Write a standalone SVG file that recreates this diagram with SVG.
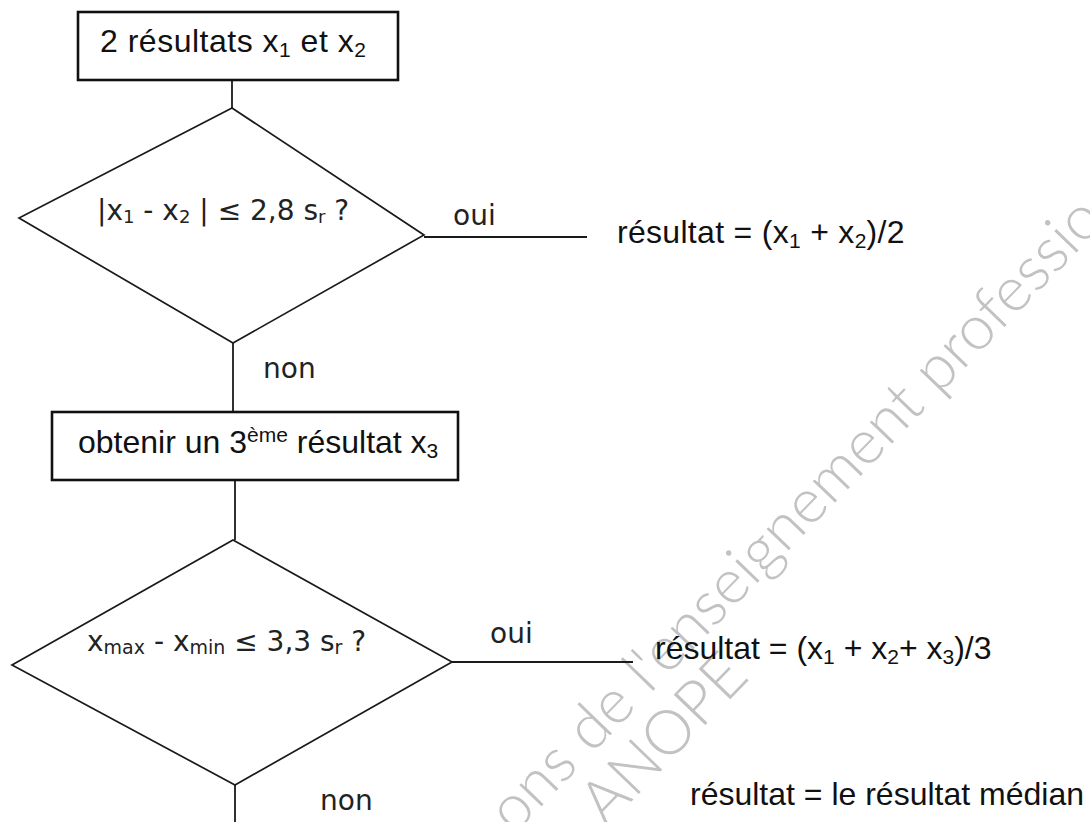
<svg xmlns="http://www.w3.org/2000/svg" width="1090" height="822" viewBox="0 0 1090 822">
<style>
.box{fill:none;stroke:#111;stroke-width:2.6}
.dia{fill:none;stroke:#1a1a1a;stroke-width:1.7}
.ln{stroke:#1a1a1a;stroke-width:1.8;fill:none}
.t{font-family:"Liberation Sans",Arial,sans-serif;fill:#111;font-size:32px}
.q{font-family:"DejaVu Sans","Liberation Sans",sans-serif;fill:#222;font-size:28px}
.wm{font-family:"Lato","Open Sans",sans-serif;font-weight:300;fill:#c2c2c2;font-size:62px}
</style>
<rect width="1090" height="822" fill="#fff"/>
<g id="watermark">
<text class="wm" transform="translate(514,835) rotate(-46)">ons de l'enseignement professio</text>
<text class="wm" transform="translate(606,828) rotate(-46)">ANOPE</text>
</g>
<g id="connectors">
<line class="ln" x1="232" y1="80" x2="232" y2="108"/>
<line class="ln" x1="424" y1="237" x2="587" y2="237"/>
<line class="ln" x1="233" y1="343" x2="233" y2="412"/>
<line class="ln" x1="235" y1="480" x2="235" y2="540"/>
<line class="ln" x1="452" y1="662" x2="633" y2="662"/>
<line class="ln" x1="235" y1="785" x2="235" y2="822"/>
<text class="q" x="453" y="225">oui</text>
<text class="q" x="263" y="378">non</text>
<text class="q" x="490" y="643">oui</text>
<text class="q" x="320" y="810">non</text>
</g>
<g id="start">
<rect class="box" x="78" y="12" width="320" height="68"/>
<text class="t" x="100" y="52" letter-spacing="0.5">2 résultats x<tspan font-size="21" dy="5">1</tspan><tspan dy="-5"> et x</tspan><tspan font-size="21" dy="5">2</tspan></text>
</g>
<g id="decision1">
<polygon class="dia" points="232,108 424,235 233,343 19,218"/>
<text class="q" x="97" y="220" font-size="27">|x<tspan font-size="18" dy="3">1</tspan><tspan dy="-3"> - x</tspan><tspan font-size="18" dy="3">2</tspan><tspan dy="-3"> | ≤ 2,8 s</tspan><tspan font-size="18" dy="3">r</tspan><tspan dy="-3">  ?</tspan></text>
</g>
<g id="result1">
<text class="t" x="617" y="243" letter-spacing="0.3">résultat = (x<tspan font-size="21" dy="5">1</tspan><tspan dy="-5"> + x</tspan><tspan font-size="21" dy="5">2</tspan><tspan dy="-5">)/2</tspan></text>
</g>
<g id="third">
<rect class="box" x="52" y="412" width="406" height="68"/>
<text class="t" x="78" y="453">obtenir un 3<tspan font-size="21" dy="-11">ème</tspan><tspan dy="11"> résultat x</tspan><tspan font-size="21" dy="5">3</tspan></text>
</g>
<g id="decision2">
<polygon class="dia" points="233,540 452,662 235,785 12,665"/>
<text class="q" x="87" y="651">x<tspan font-size="19" dy="3">max</tspan><tspan dy="-3"> - x</tspan><tspan font-size="19" dy="3">min</tspan><tspan dy="-3"> ≤ 3,3 s</tspan><tspan font-size="19" dy="3">r</tspan><tspan dy="-3">  ?</tspan></text>
</g>
<g id="result2">
<text class="t" x="655" y="659">résultat = (x<tspan font-size="21" dy="5">1</tspan><tspan dy="-5"> + x</tspan><tspan font-size="21" dy="5">2</tspan><tspan dy="-5">+ x</tspan><tspan font-size="21" dy="5">3</tspan><tspan dy="-5">)/3</tspan></text>
</g>
<g id="result3">
<text class="t" x="690" y="805" font-size="30">résultat = le résultat médian</text>
</g>
</svg>
